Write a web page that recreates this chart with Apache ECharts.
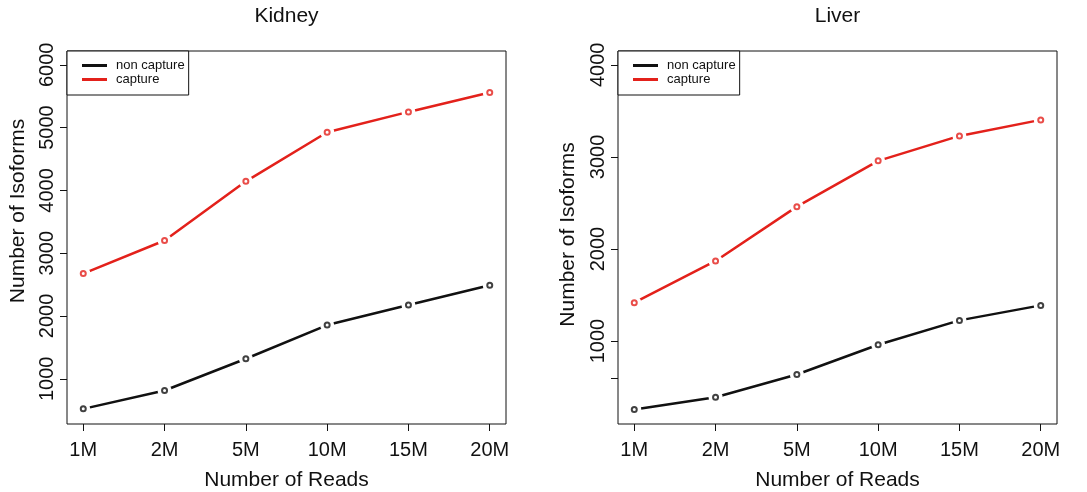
<!DOCTYPE html>
<html>
<head>
<meta charset="utf-8">
<script src="https://cdn.jsdelivr.net/npm/echarts@6/dist/echarts.min.js"></script>
<style>
html,body{margin:0;padding:0;background:#fff;}
#chart{width:1087px;height:492px;}
</style>
</head>
<body>
<div id="chart"></div>
<script>
var categories = ['1M', '2M', '5M', '10M', '15M', '20M'];
var kidneyNonCapture = [521, 814, 1319, 1856, 2176, 2489];
var kidneyCapture = [2676, 3202, 4144, 4926, 5250, 5559];
var liverNonCapture = [257, 391, 638, 960, 1225, 1388];
var liverCapture = [1417, 1870, 2460, 2957, 3228, 3402];
var kidneyYTicks = [1000, 2000, 3000, 4000, 5000, 6000];
var liverYTickMarks = [600, 1000, 2000, 3000, 4000];
var liverYTickLabels = [1000, 2000, 3000, 4000];

var FONT = 'Liberation Sans, Arial, Helvetica, sans-serif';
var BLACK = '#111111';
var RED = '#e3211b';

function pts(arr) { return categories.map(function (c, i) { return [i + 1, arr[i]]; }); }
var xTickVals = categories.map(function (c, i) { return i + 1; });

function xAxisFor(gi) {
  return {
    type: 'value', gridIndex: gi, min: 0.8, max: 6.2,
    name: 'Number of Reads', nameLocation: 'middle', nameGap: 46,
    nameTextStyle: { fontFamily: FONT, fontSize: 21, color: '#111' },
    axisLine: { show: false },
    splitLine: { show: false },
    axisTick: { show: true, length: 7, customValues: xTickVals, lineStyle: { color: '#111', width: 1 } },
    axisLabel: { customValues: xTickVals, margin: 16, fontFamily: FONT, fontSize: 20, color: '#111',
      formatter: function (v) { return categories[Math.round(v) - 1] || ''; } }
  };
}
function yAxisFor(gi, min, max, ticks, labels) {
  return {
    type: 'value', gridIndex: gi, min: min, max: max,
    axisLine: { show: false },
    splitLine: { show: false },
    axisTick: { show: true, length: 7, customValues: ticks, lineStyle: { color: '#111', width: 1 } },
    axisLabel: { customValues: labels, rotate: 90, margin: 10, fontFamily: FONT, fontSize: 20, color: '#111',
      formatter: function (v) { return String(v); } }
  };
}
function seriesFor(gi, non, cap) {
  var out = [];
  [[non, 'non capture', BLACK], [cap, 'capture', RED]].forEach(function (d) {
    out.push({ type: 'line', name: d[1], xAxisIndex: gi, yAxisIndex: gi, data: pts(d[0]),
      showSymbol: true, symbol: 'circle', symbolSize: 14,
      lineStyle: { color: d[2], width: 2.5 }, itemStyle: { color: '#ffffff', borderWidth: 0 },
      z: 2, silent: true });
    out.push({ type: 'scatter', name: d[1] + ' pt', xAxisIndex: gi, yAxisIndex: gi, data: pts(d[0]),
      symbol: 'emptyCircle', symbolSize: 5, itemStyle: { color: d[2], borderColor: d[2], borderWidth: 1 }, z: 5, silent: true });
  });
  return out;
}
function legendFor(left) {
  return {
    left: left, top: 51, orient: 'vertical',
    data: [
      { name: 'non capture', itemStyle: { color: BLACK } },
      { name: 'capture', itemStyle: { color: RED } }
    ],
    icon: 'rect', itemWidth: 25, itemHeight: 3, itemGap: 1,
    padding: [8, 4, 9, 15], borderColor: '#111', borderWidth: 1, borderRadius: 0,
    backgroundColor: '#fff', selectedMode: false,
    textStyle: { fontFamily: FONT, fontSize: 13, color: '#111', padding: [0, 0, 0, 4] }
  };
}

var chart = echarts.init(document.getElementById('chart'), null, { renderer: 'canvas' });
chart.setOption({
  animation: false,
  backgroundColor: '#ffffff',
  title: [
    { text: 'Kidney', left: 286.5, top: 6, padding: 0, textAlign: 'center', textStyle: { fontFamily: FONT, fontSize: 21, fontWeight: 'normal', color: '#111' } },
    { text: 'Liver', left: 837.5, top: 6, padding: 0, textAlign: 'center', textStyle: { fontFamily: FONT, fontSize: 21, fontWeight: 'normal', color: '#111' } }
  ],
  legend: [legendFor(67), legendFor(618)],
  grid: [
    { left: 67, right: 581, top: 51, bottom: 68, containLabel: false, outerBoundsMode: 'none', show: true, borderColor: '#111', borderWidth: 1, backgroundColor: 'transparent' },
    { left: 618, right: 30, top: 51, bottom: 68, containLabel: false, outerBoundsMode: 'none', show: true, borderColor: '#111', borderWidth: 1, backgroundColor: 'transparent' }
  ],
  xAxis: [xAxisFor(0), xAxisFor(1)],
  yAxis: [
    yAxisFor(0, 280, 6220, kidneyYTicks, kidneyYTicks),
    yAxisFor(1, 100, 4150, liverYTickMarks, liverYTickLabels)
  ],
  graphic: [
    { type: 'text', x: 18.5, y: 211, rotation: Math.PI / 2, silent: true,
      style: { text: 'Number of Isoforms', font: '21px ' + FONT, fill: '#111', align: 'center', verticalAlign: 'middle' } },
    { type: 'text', x: 568.5, y: 234.5, rotation: Math.PI / 2, silent: true,
      style: { text: 'Number of Isoforms', font: '21px ' + FONT, fill: '#111', align: 'center', verticalAlign: 'middle' } }
  ],
  series: seriesFor(0, kidneyNonCapture, kidneyCapture).concat(seriesFor(1, liverNonCapture, liverCapture))
});
</script>
</body>
</html>
